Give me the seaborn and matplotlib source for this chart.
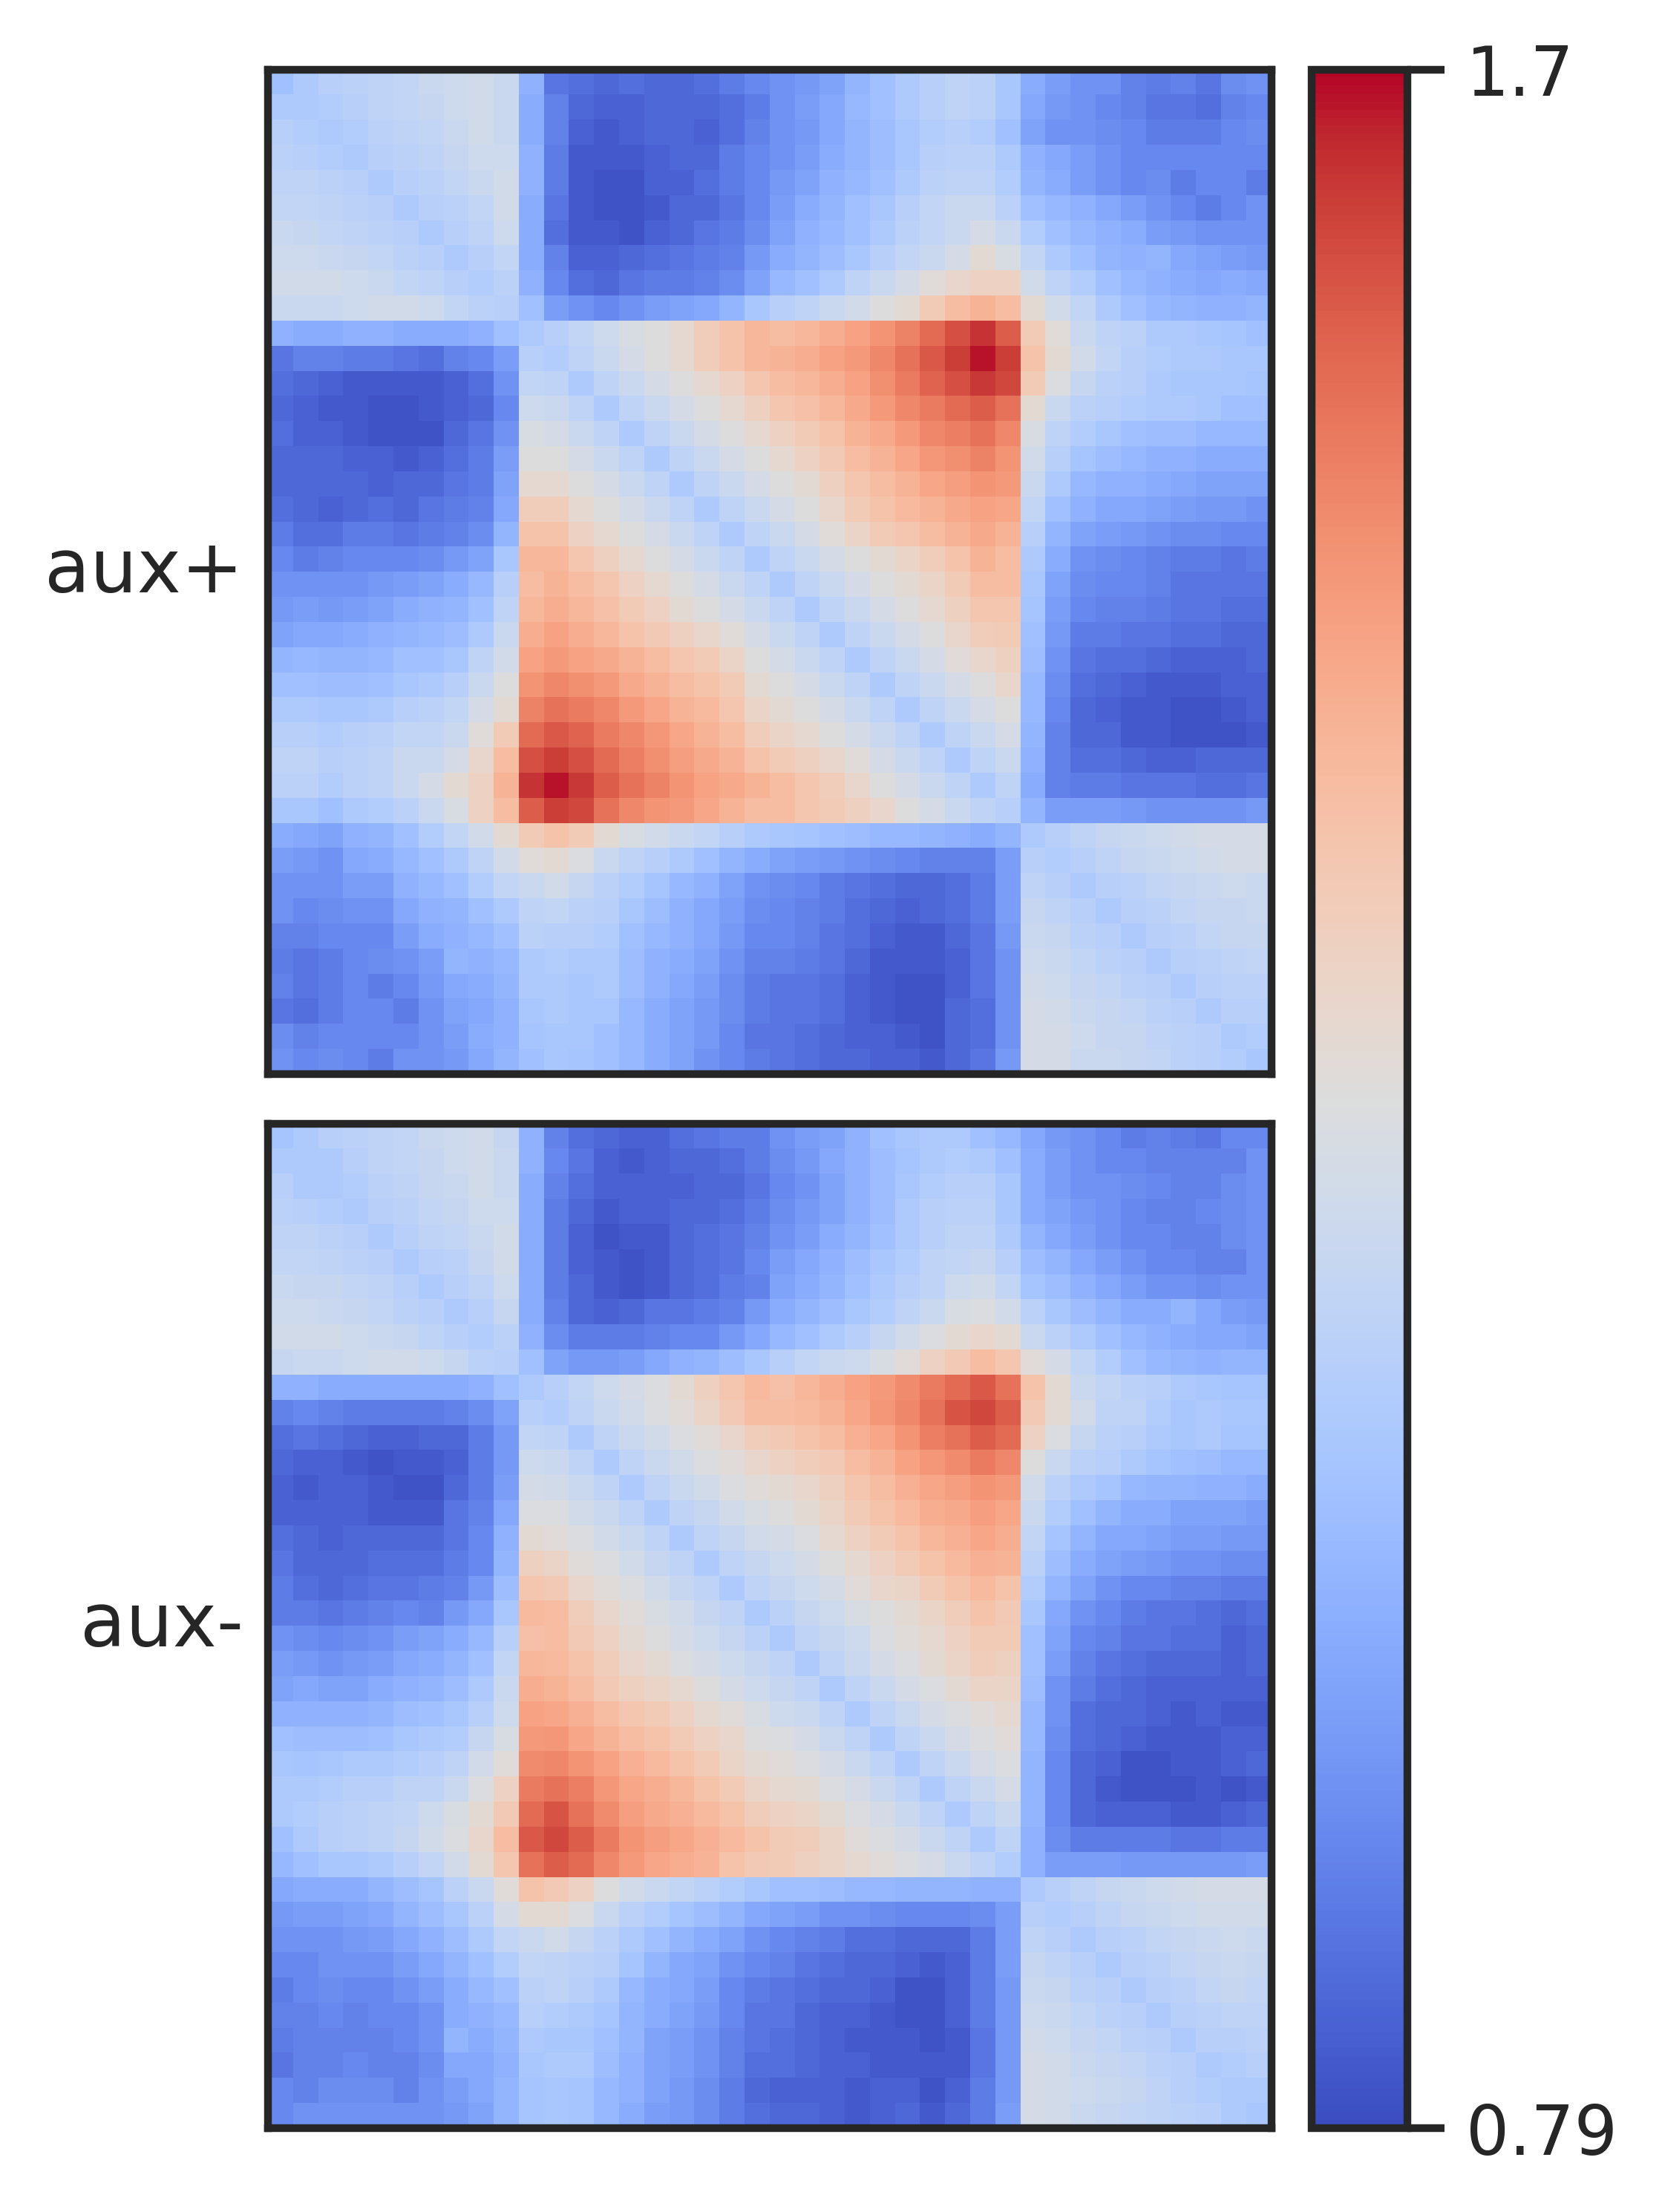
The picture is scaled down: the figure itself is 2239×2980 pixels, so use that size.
import numpy as np
import seaborn as sns
import matplotlib.pyplot as plt
from matplotlib.colors import LogNorm

# upper triangle of each symmetric matrix, one list per row (row i starts at the diagonal)
aux_plus_rows = [
    [1.00,1.03,1.05,1.06,1.07,1.08,1.10,1.11,1.12,1.10, .96,.85,.84,.83,.84,.83,.83,.84,.86,.88, .90,.91,.93,.97,1.00,1.03,1.05,1.07,1.06,1.02, .95,.92,.90,.90,.87,.86,.87,.85,.89,.90],
    [1.03,1.04,1.05,1.07,1.08,1.09,1.11,1.12,1.10, .95,.87,.83,.82,.82,.83,.83,.83,.84,.86, .90,.92,.94,.98,1.00,1.03,1.05,1.07,1.06,1.02, .94,.91,.90,.88,.87,.85,.85,.84,.87,.88],
    [1.03,1.04,1.06,1.07,1.08,1.10,1.12,1.10, .95,.87,.82,.81,.82,.83,.83,.82,.84,.87, .90,.91,.94,.97,.99,1.02,1.04,1.05,1.04,1.00, .93,.90,.90,.89,.88,.86,.86,.86,.88,.89],
    [1.03,1.05,1.06,1.07,1.09,1.11,1.11, .96,.86,.81,.81,.81,.82,.83,.83,.86,.88, .90,.92,.95,.97,.99,1.02,1.05,1.06,1.06,1.03, .96,.94,.92,.90,.88,.88,.88,.88,.88,.88],
    [1.03,1.05,1.06,1.08,1.10,1.12, .96,.86,.81,.80,.80,.82,.82,.84,.86,.88, .91,.93,.96,.98,1.00,1.03,1.06,1.07,1.07,1.04, .97,.95,.92,.90,.88,.89,.86,.88,.88,.86],
    [1.03,1.05,1.06,1.08,1.12, .95,.85,.81,.80,.80,.81,.83,.83,.85,.88, .92,.95,.97,1.00,1.02,1.05,1.08,1.10,1.10,1.06, 1.00,.98,.96,.94,.92,.90,.88,.86,.88,.90],
    [1.03,1.05,1.07,1.11, .95,.84,.81,.81,.80,.82,.83,.85,.86,.89, .93,.96,.98,1.00,1.03,1.06,1.08,1.10,1.13,1.10, 1.04,1.00,.98,.96,.95,.92,.91,.90,.90,.90],
    [1.03,1.05,1.08, .95,.87,.82,.82,.83,.84,.85,.86,.87,.91, .95,.97,.99,1.02,1.05,1.08,1.10,1.13,1.18,1.14, 1.08,1.03,1.00,.97,.96,.97,.94,.93,.92,.91],
    [1.04,1.06, .96,.88,.84,.83,.85,.86,.86,.87,.89,.93, .98,1.00,1.03,1.07,1.10,1.13,1.17,1.20,1.22,1.22, 1.12,1.07,1.04,1.00,.98,.96,.95,.94,.95,.94],
    [1.05, 1.00,.92,.90,.88,.90,.92,.93,.94,.97,1.02, 1.05,1.07,1.10,1.12,1.16,1.18,1.25,1.30,1.33,1.30, 1.18,1.12,1.08,1.03,1.00,.98,.97,.96,.96,.97],
    [1.03,1.05,1.08,1.11,1.14,1.16,1.19,1.24,1.28,1.32, 1.30,1.32,1.35,1.38,1.42,1.46,1.52,1.58,1.64,1.55, 1.25,1.17,1.10,1.07,1.06,1.03,1.03,1.02,1.01,1.00],
    [1.04,1.07,1.10,1.13,1.16,1.19,1.24,1.28,1.32, 1.33,1.35,1.38,1.40,1.45,1.50,1.56,1.62,1.68,1.62, 1.28,1.18,1.12,1.08,1.05,1.04,1.03,1.03,1.02,1.02],
    [1.03,1.07,1.10,1.13,1.16,1.19,1.22,1.27, 1.30,1.32,1.35,1.38,1.43,1.48,1.54,1.58,1.63,1.60, 1.25,1.15,1.09,1.06,1.05,1.03,1.02,1.02,1.02,1.01],
    [1.03,1.07,1.10,1.13,1.16,1.19,1.23, 1.27,1.29,1.32,1.36,1.40,1.45,1.48,1.52,1.55,1.50, 1.18,1.10,1.06,1.05,1.04,1.03,1.03,1.02,1.00,1.00],
    [1.03,1.07,1.10,1.13,1.16,1.19, 1.22,1.25,1.28,1.33,1.36,1.40,1.45,1.47,1.50,1.45, 1.14,1.07,1.04,1.02,1.00,.99,.99,.98,.98,.98],
    [1.03,1.07,1.10,1.13,1.16, 1.19,1.22,1.26,1.30,1.33,1.37,1.41,1.43,1.46,1.42, 1.12,1.05,1.01,.99,.98,.96,.96,.95,.95,.95],
    [1.03,1.07,1.10,1.13, 1.16,1.18,1.23,1.27,1.30,1.33,1.37,1.39,1.42,1.40, 1.10,1.03,.98,.96,.96,.95,.94,.93,.93,.93],
    [1.03,1.07,1.10, 1.13,1.16,1.20,1.25,1.28,1.31,1.33,1.36,1.38,1.37, 1.08,1.00,.96,.94,.94,.93,.92,.91,.91,.90],
    [1.03,1.07, 1.10,1.13,1.17,1.21,1.25,1.27,1.30,1.33,1.36,1.33, 1.05,.97,.93,.92,.91,.90,.89,.89,.88,.88],
    [1.03, 1.07,1.10,1.13,1.16,1.18,1.21,1.24,1.28,1.33,1.30, 1.03,.95,.90,.89,.88,.87,.86,.86,.85,.86],
    [1.03,1.07,1.10,1.13,1.16,1.18,1.21,1.25,1.30,1.30, 1.02,.93,.89,.88,.88,.87,.85,.85,.85,.85],
    [1.03,1.07,1.10,1.13,1.16,1.19,1.23,1.27,1.27, 1.01,.92,.88,.87,.87,.86,.85,.85,.84,.84],
    [1.03,1.07,1.10,1.13,1.16,1.20,1.24,1.25, 1.00,.91,.86,.86,.85,.85,.84,.84,.83,.83],
    [1.03,1.07,1.10,1.13,1.17,1.20,1.23, .99,.90,.85,.84,.84,.83,.82,.82,.82,.83],
    [1.03,1.07,1.10,1.13,1.16,1.20, .98,.89,.84,.83,.82,.81,.81,.81,.82,.82],
    [1.03,1.07,1.10,1.13,1.16, .98,.88,.83,.82,.81,.81,.80,.80,.81,.82],
    [1.03,1.07,1.10,1.13, .97,.87,.83,.83,.81,.81,.80,.80,.80,.81],
    [1.03,1.07,1.10, .96,.87,.84,.84,.83,.82,.82,.83,.83,.83],
    [1.03,1.07, .95,.87,.86,.86,.85,.85,.85,.84,.84,.85],
    [1.05, .97,.92,.92,.92,.91,.90,.90,.90,.90,.91],
    [1.03,1.05,1.07,1.09,1.10,1.11,1.12,1.13,1.13,1.13],
    [1.04,1.05,1.07,1.09,1.10,1.11,1.12,1.13,1.13],
    [1.03,1.05,1.06,1.08,1.09,1.10,1.11,1.10],
    [1.03,1.05,1.06,1.08,1.09,1.09,1.10],
    [1.03,1.05,1.06,1.08,1.09,1.09],
    [1.03,1.05,1.06,1.07,1.08],
    [1.03,1.05,1.06,1.06],
    [1.03,1.05,1.05],
    [1.03,1.04],
    [1.02],
]

aux_minus_rows = [
    [1.01,1.03,1.05,1.06,1.07,1.08,1.10,1.11,1.12,1.09, .96,.87,.84,.83,.82,.82,.84,.85,.86,.86, .90,.92,.93,.96,1.00,1.02,1.03,1.03,1.00,.98, .94,.91,.90,.88,.86,.87,.86,.85,.88,.88],
    [1.03,1.03,1.05,1.07,1.08,1.09,1.11,1.12,1.10, .96,.88,.85,.82,.81,.82,.83,.83,.84,.86, .89,.91,.94,.96,.99,1.01,1.03,1.04,1.03,1.00, .95,.92,.90,.88,.88,.87,.87,.87,.87,.90],
    [1.03,1.04,1.06,1.07,1.09,1.10,1.12,1.10, .95,.87,.84,.82,.82,.82,.82,.83,.83,.85, .88,.90,.93,.96,.99,1.02,1.04,1.05,1.05,1.02, .95,.92,.90,.90,.89,.88,.87,.87,.89,.90],
    [1.03,1.05,1.06,1.08,1.09,1.11,1.11, .95,.86,.83,.81,.82,.82,.83,.83,.84,.86, .89,.91,.93,.96,.99,1.03,1.05,1.06,1.06,1.02, .95,.93,.91,.90,.88,.87,.87,.88,.89,.90],
    [1.03,1.05,1.07,1.08,1.10,1.12, .95,.86,.82,.80,.81,.81,.83,.84,.85,.87, .90,.92,.95,.97,1.00,1.03,1.05,1.07,1.07,1.03, .97,.94,.92,.90,.88,.88,.87,.87,.89,.90],
    [1.03,1.05,1.06,1.09,1.12, .95,.86,.82,.81,.80,.81,.83,.84,.85,.88, .92,.94,.96,.99,1.02,1.04,1.07,1.08,1.09,1.05, .99,.97,.94,.92,.90,.88,.88,.87,.87,.90],
    [1.03,1.05,1.07,1.11, .95,.86,.83,.81,.80,.81,.83,.84,.86,.87, .93,.95,.97,1.00,1.03,1.05,1.07,1.11,1.12,1.08, 1.01,.99,.96,.94,.92,.90,.90,.89,.90,.90],
    [1.03,1.05,1.09, .95,.87,.83,.82,.83,.85,.85,.86,.87,.91, .95,.97,.99,1.02,1.04,1.07,1.10,1.14,1.15,1.12, 1.06,1.02,.99,.97,.95,.95,.97,.94,.92,.91],
    [1.04,1.06, .96,.89,.86,.86,.86,.87,.88,.88,.91,.94, .98,1.00,1.03,1.05,1.09,1.12,1.15,1.18,1.20,1.18, 1.10,1.06,1.03,1.00,.98,.96,.95,.94,.94,.93],
    [1.05, 1.00,.93,.91,.91,.92,.94,.96,.97,.99,1.02, 1.05,1.08,1.10,1.11,1.14,1.17,1.22,1.26,1.30,1.27, 1.17,1.13,1.08,1.04,1.00,.98,.97,.96,.97,.97],
    [1.03,1.05,1.08,1.11,1.13,1.15,1.18,1.23,1.27,1.31, 1.29,1.32,1.35,1.38,1.40,1.44,1.48,1.52,1.56,1.50, 1.28,1.18,1.10,1.08,1.06,1.05,1.03,1.02,1.01,1.01],
    [1.04,1.07,1.10,1.12,1.15,1.17,1.21,1.26,1.30, 1.30,1.31,1.33,1.37,1.41,1.45,1.50,1.57,1.60,1.55, 1.26,1.18,1.12,1.07,1.07,1.04,1.02,1.03,1.02,1.02],
    [1.03,1.07,1.10,1.12,1.15,1.17,1.20,1.24, 1.26,1.28,1.30,1.34,1.37,1.42,1.47,1.50,1.55,1.52, 1.22,1.15,1.09,1.06,1.05,1.03,1.02,1.03,1.01,1.01],
    [1.03,1.07,1.10,1.12,1.15,1.17,1.20, 1.22,1.24,1.26,1.30,1.33,1.38,1.41,1.44,1.48,1.45, 1.16,1.10,1.06,1.05,1.03,1.01,1.00,.99,.98,.98],
    [1.03,1.07,1.10,1.12,1.15,1.17, 1.18,1.20,1.23,1.27,1.30,1.34,1.37,1.39,1.42,1.40, 1.12,1.06,1.03,1.01,.98,.97,.97,.96,.96,.95],
    [1.03,1.07,1.09,1.12,1.14, 1.16,1.18,1.21,1.25,1.28,1.31,1.35,1.36,1.39,1.37, 1.10,1.04,1.00,.97,.95,.95,.93,.93,.93,.92],
    [1.03,1.07,1.09,1.12, 1.13,1.15,1.19,1.22,1.25,1.28,1.32,1.34,1.37,1.35, 1.08,1.01,.97,.94,.94,.93,.92,.92,.91,.91],
    [1.03,1.07,1.09, 1.11,1.13,1.16,1.19,1.22,1.25,1.28,1.31,1.34,1.33, 1.06,.99,.95,.93,.92,.91,.90,.90,.89,.89],
    [1.03,1.07, 1.09,1.11,1.13,1.17,1.20,1.21,1.25,1.28,1.31,1.28, 1.04,.97,.93,.90,.88,.88,.87,.87,.86,.86],
    [1.03, 1.06,1.09,1.11,1.14,1.16,1.18,1.21,1.24,1.28,1.26, 1.02,.94,.90,.88,.86,.85,.85,.84,.83,.84],
    [1.03,1.07,1.09,1.11,1.15,1.17,1.19,1.22,1.25,1.25, 1.00,.93,.88,.87,.85,.85,.84,.84,.82,.83],
    [1.03,1.07,1.10,1.13,1.15,1.18,1.21,1.24,1.23, 1.00,.92,.87,.85,.84,.83,.83,.83,.82,.83],
    [1.03,1.07,1.10,1.13,1.15,1.18,1.21,1.21, .99,.90,.86,.84,.83,.82,.82,.82,.82,.82],
    [1.03,1.07,1.10,1.13,1.15,1.17,1.19, .98,.90,.84,.83,.83,.82,.81,.82,.81,.81],
    [1.03,1.07,1.10,1.13,1.15,1.17, .98,.89,.84,.83,.82,.81,.81,.81,.82,.82],
    [1.03,1.07,1.10,1.13,1.15, .97,.88,.83,.82,.80,.80,.81,.81,.82,.83],
    [1.03,1.07,1.10,1.13, .97,.88,.83,.81,.80,.80,.80,.81,.80,.81],
    [1.03,1.07,1.10, .97,.88,.83,.82,.82,.82,.81,.81,.82,.83],
    [1.03,1.07, .96,.89,.86,.86,.86,.86,.85,.85,.86,.86],
    [1.04, .96,.92,.92,.92,.91,.91,.91,.91,.91,.92],
    [1.03,1.05,1.07,1.09,1.10,1.11,1.12,1.13,1.13,1.13],
    [1.04,1.05,1.07,1.09,1.10,1.11,1.12,1.12,1.12],
    [1.03,1.05,1.06,1.08,1.09,1.10,1.11,1.10],
    [1.03,1.05,1.06,1.08,1.09,1.10,1.09],
    [1.03,1.05,1.06,1.08,1.09,1.08],
    [1.03,1.05,1.06,1.07,1.07],
    [1.03,1.05,1.05,1.06],
    [1.03,1.04,1.05],
    [1.03,1.03],
    [1.02],
]

row_labels = ["aux+", "aux-"]
color_min = 0.79
color_max = 1.7
cbar_ticks = [0.79, 1.7]
cbar_ticklabels = ["0.79", "1.7"]


def rows_to_matrix(rows):
    n = len(rows)
    mat = np.zeros((n, n))
    for i, row in enumerate(rows):
        assert len(row) == n - i, "row %d has %d values" % (i, len(row))
        mat[i, i:] = row
        mat[i:, i] = row
    return mat


sns.set_style("white")
plt.rcParams["axes.linewidth"] = 2.5

W, H = 2239, 2980
fig = plt.figure(figsize=(W / 300, H / 300), dpi=300)


def px_axes(x0, y0, x1, y1):
    return fig.add_axes([x0 / W, 1 - y1 / H, (x1 - x0) / W, (y1 - y0) / H])


ax_top = px_axes(361, 93.5, 1712.5, 1447)
ax_bottom = px_axes(361, 1513.5, 1712.5, 2867)
cax = px_axes(1767, 93.5, 1896, 2867)

norm = LogNorm(vmin=color_min, vmax=color_max)

for ax, rows, label in zip([ax_top, ax_bottom], [aux_plus_rows, aux_minus_rows], row_labels):
    first = ax is ax_top
    sns.heatmap(rows_to_matrix(rows), ax=ax, cmap="coolwarm", norm=norm,
                xticklabels=False, yticklabels=False,
                cbar=first, cbar_ax=cax if first else None)
    for spine in ax.spines.values():
        spine.set_visible(True)
        spine.set_linewidth(2.5)
        spine.set_color(".15")
    ax.set_ylabel(label, rotation=0, ha="right", va="center", fontsize=24, color=".15", labelpad=8)

cb = ax_top.collections[0].colorbar
cb.set_ticks(cbar_ticks, labels=cbar_ticklabels)
cb.ax.minorticks_off()
cb.ax.tick_params(axis="y", which="major", right=True, length=12, width=2.5, color=".15",
                  labelsize=22, labelcolor=".15", pad=7)
cb.outline.set_visible(True)
cb.outline.set_linewidth(2.5)
cb.outline.set_edgecolor(".15")

fig.savefig("out.png", dpi=300)
